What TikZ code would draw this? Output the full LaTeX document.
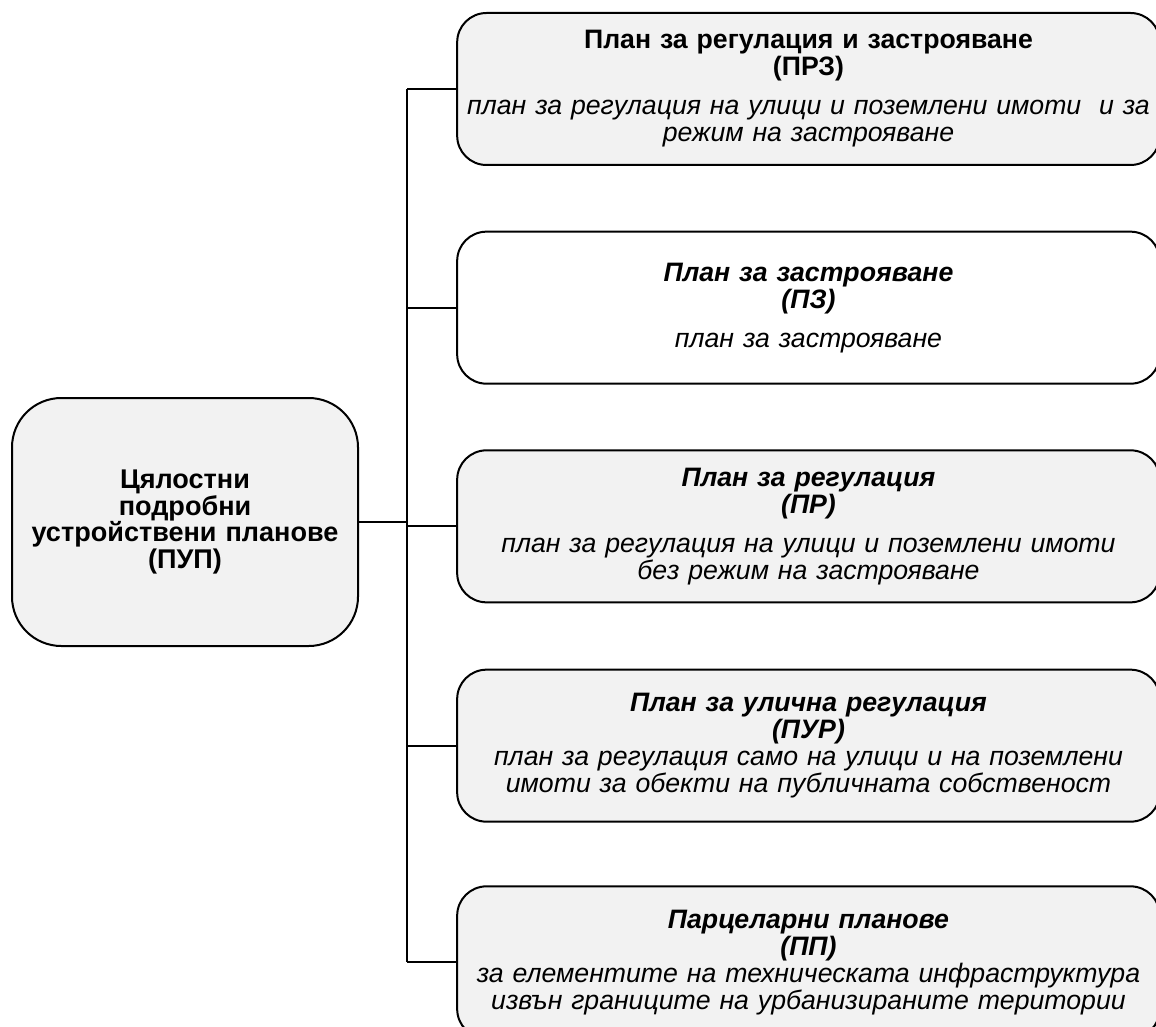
\documentclass[tikz,border=0pt]{standalone}
\usepackage{fontspec}
\setmainfont{Liberation Sans}
\usetikzlibrary{positioning}
\definecolor{boxfill}{HTML}{F2F2F2}

\begin{document}
\begin{tikzpicture}[
      x=0.75pt, y=-0.75pt,
      node distance=48pt,
      every node/.style={draw, line width=1.5pt, align=center, inner sep=0pt},
      mainbox/.style={fill=boxfill, rounded corners=37pt, minimum width=259.5pt, minimum height=186pt, text width=250pt, font=\fontsize{20.3}{20}\selectfont\bfseries},
      planbox/.style={fill=boxfill, rounded corners=22pt, minimum width=527pt, minimum height=114pt, text width=520pt, font=\fontsize{20}{20.25}\selectfont},
      plainbox/.style={planbox, fill=white},
      bus/.style={line width=1.5pt}
    ]
      \useasboundingbox (0,0) rectangle (1156,1027);
      \node[mainbox] (pup) at (185,522) {Цялостни\\подробни\\устройствени планове\\(ПУП)};
      \node[planbox] (prz) at (808.5,89) {\textbf{План за регулация и застрояване}\\\textbf{(ПРЗ)}\\[9pt]
        \textit{план за регулация на улици и поземлени имоти \ и за}\\\textit{режим на застрояване}};
      \node[plainbox, below=48.5pt of prz] (pz) {\textbf{\textit{План за застрояване}}\\\textbf{\textit{(ПЗ)}}\\[9pt]
        \textit{план за застрояване}};
      \node[planbox, below=48.5pt of pz] (pr) {\textbf{\textit{План за регулация}}\\\textbf{\textit{(ПР)}}\\[9pt]
        \textit{план за регулация на улици и поземлени имоти}\\\textit{без режим на застрояване}};
      \node[planbox, below=49pt of pr] (pur) {\textbf{\textit{План за улична регулация}}\\\textbf{\textit{(ПУР)}}\\
        \textit{план за регулация само на улици и на поземлени}\\\textit{имоти за обекти на публичната собственост}};
      \node[planbox, below=47pt of pur] (pp) {\textbf{\textit{Парцеларни планове}}\\\textbf{\textit{(ПП)}}\\
        \textit{за елементите на техническата инфраструктура}\\\textit{извън границите на урбанизираните територии}};

      % shared vertical line
      \coordinate (busx) at (407,0);
      \draw[bus] (pup.east) -- (pup.east -| busx);
      \draw[bus] (prz.west -| busx) -- (pp.west -| busx);
      \foreach \n in {prz, pz, pr, pur, pp}
        \draw[bus] (\n.west) -- (\n.west -| busx);
    \end{tikzpicture}
\end{document}
